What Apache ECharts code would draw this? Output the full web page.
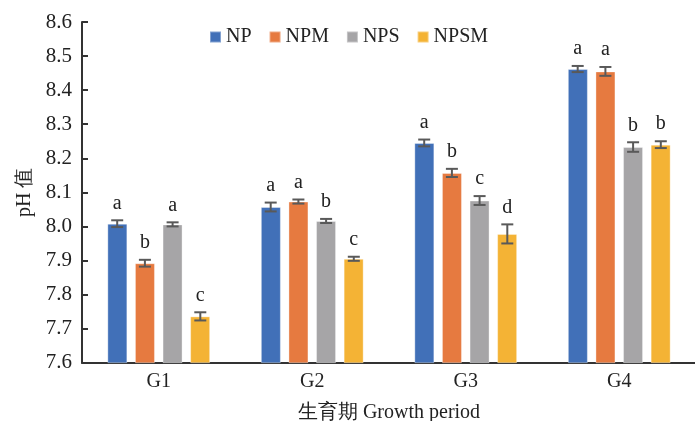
<!DOCTYPE html>
<html>
<head>
<meta charset="utf-8">
<script src="https://cdn.jsdelivr.net/npm/echarts@6/dist/echarts.min.js"></script>
<style>
  html, body { margin: 0; padding: 0; background: #fff; }
  #chart { width: 695px; height: 421px; }
</style>
</head>
<body>
<div id="chart"></div>
<script>
// Growth stages on the category axis
var categories = ['G1', 'G2', 'G3', 'G4'];
var seriesNames = ['NP', 'NPM', 'NPS', 'NPSM'];

// Mean pH per treatment
var valuesNP   = [8.008, 8.057, 8.245, 8.462];
var valuesNPM  = [7.892, 8.073, 8.157, 8.455];
var valuesNPS  = [8.006, 8.016, 8.076, 8.233];
var valuesNPSM = [7.736, 7.905, 7.978, 8.240];

// Standard errors
var errNP   = [0.010, 0.013, 0.010, 0.009];
var errNPM  = [0.010, 0.006, 0.012, 0.013];
var errNPS  = [0.006, 0.006, 0.013, 0.014];
var errNPSM = [0.012, 0.006, 0.028, 0.010];

// Significance letters
var lettersNP   = ['a', 'a', 'a', 'a'];
var lettersNPM  = ['b', 'a', 'b', 'a'];
var lettersNPS  = ['a', 'b', 'c', 'b'];
var lettersNPSM = ['c', 'c', 'd', 'b'];

var yTicks = { min: 7.6, max: 8.6, step: 0.1 };

var colors = ['#4170B8', '#E67A40', '#A6A5A7', '#F4B335'];
var FONT = 'Liberation Serif';

var allValues = [valuesNP, valuesNPM, valuesNPS, valuesNPSM];
var allErrs = [errNP, errNPM, errNPS, errNPSM];
var allLetters = [lettersNP, lettersNPM, lettersNPS, lettersNPSM];

var BAR_W = 20;
var BAR_PITCH = 27.7;

function errorSeries(idx) {
  var data = categories.map(function (c, i) {
    return [i, allValues[idx][i], allErrs[idx][i]];
  });
  return {
    type: 'custom',
    name: seriesNames[idx] + '-err',
    data: data,
    z: 10,
    silent: true,
    encode: { x: 0, y: 1 },
    renderItem: function (params, api) {
      var cat = api.value(0);
      var v = api.value(1);
      var e = api.value(2);
      var letter = allLetters[idx][params.dataIndex];
      var off = (idx - 1.5) * BAR_PITCH;
      var top = api.coord([cat, v + e]);
      var bot = api.coord([cat, v - e]);
      var x = top[0] + off;
      var cap = 6;
      var st = { stroke: '#595959', lineWidth: 2 };
      return {
        type: 'group',
        children: [
          { type: 'line', shape: { x1: x, y1: top[1], x2: x, y2: bot[1] }, style: st },
          { type: 'line', shape: { x1: x - cap, y1: top[1], x2: x + cap, y2: top[1] }, style: st },
          { type: 'line', shape: { x1: x - cap, y1: bot[1], x2: x + cap, y2: bot[1] }, style: st },
          {
            type: 'text',
            style: {
              text: letter, x: x, y: top[1] - 17,
              textAlign: 'center', textVerticalAlign: 'middle',
              fill: '#222', fontFamily: FONT, fontSize: 20
            }
          }
        ]
      };
    }
  };
}

var series = [];
seriesNames.forEach(function (name, idx) {
  series.push({
    type: 'bar',
    name: name,
    data: allValues[idx],
    barWidth: BAR_W,
    barGap: '38%',
    itemStyle: { color: colors[idx], borderColor: 'rgba(255,255,255,0.35)', borderWidth: 1 }
  });
});
seriesNames.forEach(function (name, idx) { series.push(errorSeries(idx)); });

var chart = echarts.init(document.getElementById('chart'), null, { renderer: 'canvas' });
chart.setOption({
  animation: false,
  backgroundColor: '#fff',
  color: colors,
  textStyle: { fontFamily: FONT },
  grid: { left: 82, top: 22, width: 614, height: 340.7, containLabel: false, outerBoundsMode: 'none' },
  legend: {
    data: seriesNames,
    left: 204, top: 22,
    itemWidth: 11, itemHeight: 11, itemGap: 17,
    icon: 'rect',
    textStyle: { fontFamily: FONT, fontSize: 20, color: '#222' }
  },
  xAxis: {
    type: 'category',
    data: categories,
    name: '生育期 Growth period',
    nameLocation: 'middle',
    nameGap: 40,
    nameTextStyle: { fontFamily: FONT, fontSize: 20, color: '#222' },
    axisLine: { lineStyle: { color: '#333', width: 2 } },
    axisTick: { inside: true, length: 6, lineStyle: { color: '#333', width: 2 } },
    axisLabel: { fontFamily: FONT, fontSize: 20, color: '#222', margin: 9 },
    splitLine: { show: false }
  },
  yAxis: {
    type: 'value',
    min: yTicks.min, max: yTicks.max, interval: yTicks.step,
    name: 'pH 值',
    nameLocation: 'middle',
    nameGap: 47,
    nameRotate: 90,
    nameTextStyle: { fontFamily: FONT, fontSize: 20, color: '#222' },
    axisLine: { show: true, lineStyle: { color: '#333', width: 2 } },
    axisTick: { show: true, inside: true, length: 6, lineStyle: { color: '#333', width: 2 } },
    axisLabel: {
      fontFamily: FONT, fontSize: 21, color: '#222', margin: 10,
      formatter: function (v) { return v.toFixed(1); }
    },
    splitLine: { show: false }
  },
  series: series
});
</script>
</body>
</html>
